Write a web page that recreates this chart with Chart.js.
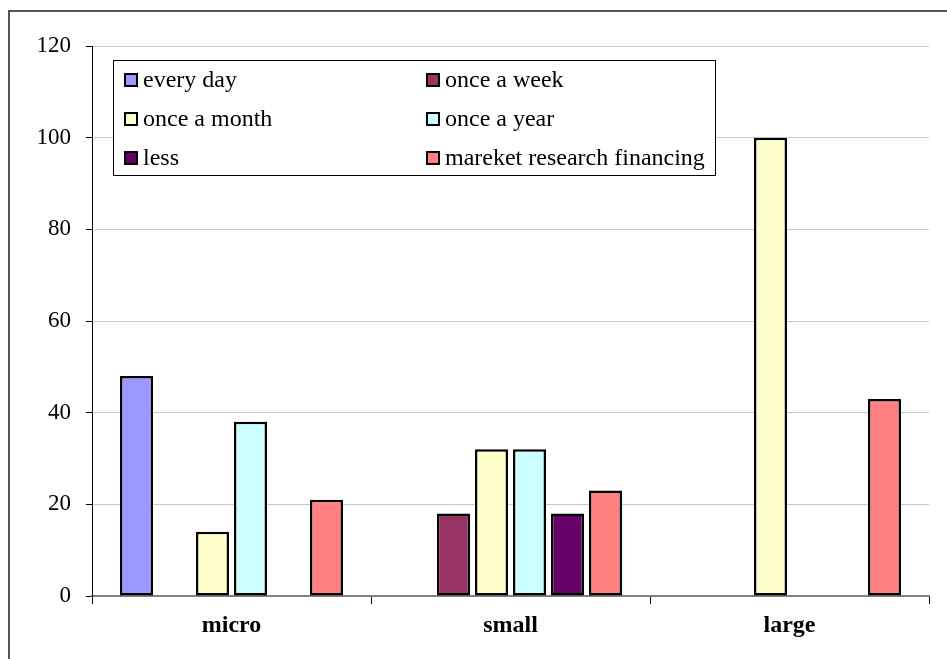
<!DOCTYPE html>
<html lang="en">
<head>
  <meta charset="UTF-8" />
  <title>Market research frequency</title>
  <script src="https://cdn.jsdelivr.net/npm/chart.js"></script>
  <style>
    body {
      margin: 0;
      width: 947px;
      height: 659px;
      overflow: hidden;
      background: #fff;
      position: relative;
    }
    .frame {
      position: absolute;
      left: 8px;
      top: 10px;
      width: 1000px;
      height: 700px;
      border: 2px solid #555;
    }
    canvas {
      position: absolute;
      left: 0;
      top: 0;
    }
  </style>
</head>
<body>
  <div class="frame"></div>
  <canvas id="chart" width="947" height="659"></canvas>

  <script>
    const categories = ["micro", "small", "large"];
    const seriesNames = [
      "every day", "once a week", "once a month",
      "once a year", "less", "mareket research financing"
    ];
    const everyDay = [48, 0, 0];
    const onceAWeek = [0, 18, 0];
    const onceAMonth = [14, 32, 100];
    const onceAYear = [38, 32, 0];
    const less = [0, 18, 0];
    const researchFinancing = [21, 23, 43];
    const yTicks = [0, 20, 40, 60, 80, 100, 120];

    const colors = ["#9999ff", "#993366", "#ffffcc", "#ccffff", "#660066", "#ff8080"];
    const values = [everyDay, onceAWeek, onceAMonth, onceAYear, less, researchFinancing];

    const font = "Liberation Serif";

    // legend box drawn inside the plot, two columns like the original
    const boxLegend = {
      id: "boxLegend",
      afterDraw(chart) {
        const ctx = chart.ctx;
        const left = 113, top = 60, right = 715, bottom = 175;
        ctx.save();
        ctx.fillStyle = "#fff";
        ctx.fillRect(left, top, right - left, bottom - top);
        ctx.strokeStyle = "#000";
        ctx.lineWidth = 1;
        ctx.strokeRect(left + 0.5, top + 0.5, right - left, bottom - top);
        ctx.font = "24px '" + font + "'";
        ctx.textBaseline = "middle";
        chart.data.datasets.forEach((ds, i) => {
          const col = i % 2, row = Math.floor(i / 2);
          const x = 125 + col * 302;
          const y = 80 + row * 39;
          ctx.fillStyle = ds.backgroundColor;
          ctx.fillRect(x, y - 6, 12, 12);
          ctx.strokeStyle = "#000";
          ctx.lineWidth = 2;
          ctx.strokeRect(x, y - 6, 12, 12);
          ctx.fillStyle = "#000";
          ctx.fillText(ds.label, x + 18, y + 1);
        });
        ctx.restore();
      }
    };

    new Chart(document.getElementById("chart"), {
      type: "bar",
      data: {
        labels: categories,
        datasets: seriesNames.map((name, i) => ({
          label: name,
          data: values[i],
          backgroundColor: colors[i],
          borderColor: "#000",
          borderWidth: 2.5,
          borderSkipped: false,
          categoryPercentage: 0.817,
          barPercentage: 0.87
        }))
      },
      options: {
        responsive: false,
        animation: false,
        layout: { padding: { top: 46, right: 18, left: 0, bottom: 0 } },
        plugins: {
          legend: { display: false },
          tooltip: { enabled: false }
        },
        scales: {
          x: {
            afterFit(scale) { scale.height = 63; },
            grid: {
              display: true,
              drawOnChartArea: false,
              tickColor: "#000",
              tickLength: 8,
              tickWidth: 1
            },
            border: { color: "#808080", width: 2 },
            ticks: {
              color: "#000",
              padding: 7,
              font: { family: font, size: 24, weight: "bold" }
            }
          },
          y: {
            min: 0,
            max: 120,
            afterFit(scale) { scale.width = 92; },
            afterBuildTicks(scale) {
              scale.ticks = yTicks.map(v => ({ value: v }));
            },
            grid: {
              color: "#c8c8c8",
              lineWidth: 1,
              tickColor: "#000",
              tickLength: 6
            },
            border: { color: "#000", width: 1 },
            ticks: {
              color: "#000",
              padding: 15,
              font: { family: font, size: 23 }
            }
          }
        }
      },
      plugins: [boxLegend]
    });
  </script>
</body>
</html>
